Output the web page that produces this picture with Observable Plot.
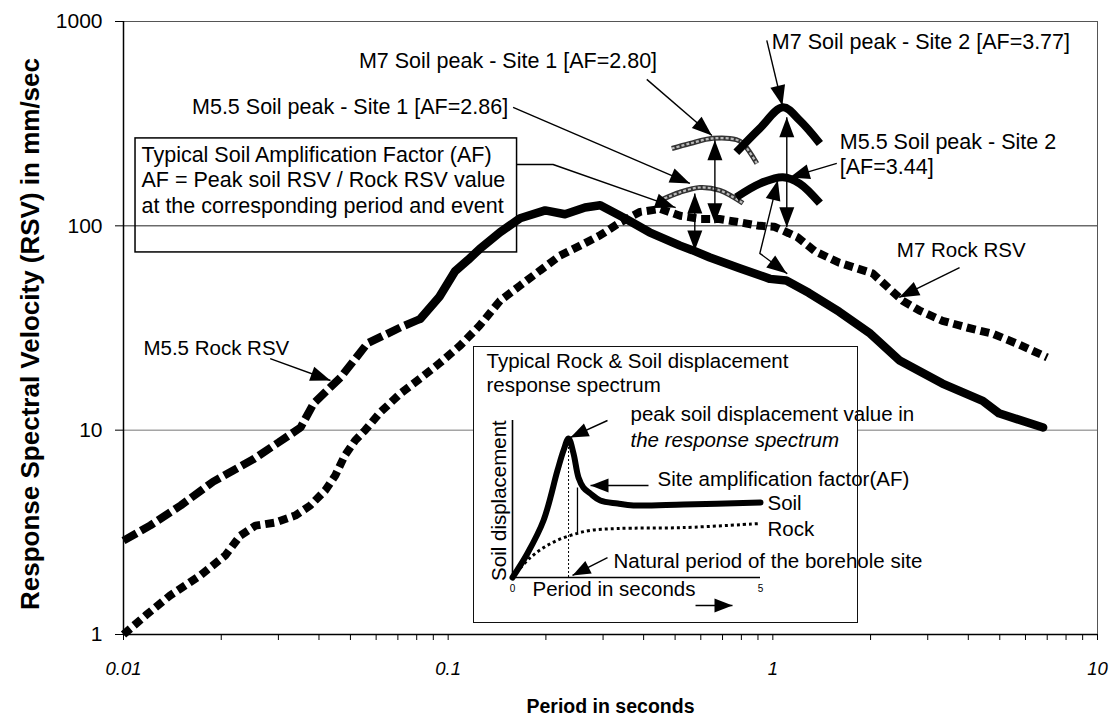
<!DOCTYPE html>
<html><head><meta charset="utf-8">
<script src="https://cdn.jsdelivr.net/npm/d3@7"></script>
<script src="https://cdn.jsdelivr.net/npm/@observablehq/plot@0.6"></script>
<style>
body{margin:0;background:#fff;}
#wrap{position:relative;width:1118px;height:721px;font-family:"Liberation Sans",Arial,sans-serif;}
#wrap svg{position:absolute;}
</style></head><body><div id="wrap"></div>
<script>
// ---------- main chart data ----------
const xTicks = [0.01, 0.1, 1, 10];
const xMinor = [0.02,0.03,0.04,0.05,0.06,0.07,0.08,0.09,0.2,0.3,0.4,0.5,0.6,0.7,0.8,0.9,2,3,4,5,6,7,8,9];
const yTicks = [1, 10, 100, 1000];
const yGrid = [10, 100];

const m55RockPeriod = [0.01,0.0121,0.015,0.0189,0.0251,0.030,0.0351,0.0385,0.0466,0.0564,0.0712,0.082,0.094,0.105,0.115,0.125,0.1445,0.1665,0.199,0.229,0.264,0.294,0.35,0.417,0.518,0.565,0.64,0.79,0.98,1.1,1.29,1.6,1.98,2.45,3.33,4.43,4.97,6.8];
const m55RockRSV    = [2.88,3.42,4.28,5.6,7.2,8.7,10.3,13.5,18.1,26.6,31.8,35,45,60,68,77,93,109,119,114,123,126,109,93,80,76,70,62,55,54,47,38,30,22,16.9,13.9,12.1,10.3];
const m55DashEnd = 0.082;

const m7RockPeriod = [0.01,0.0117,0.0139,0.0172,0.0206,0.0229,0.0255,0.0293,0.0338,0.0376,0.0418,0.0449,0.048,0.0517,0.0555,0.0617,0.0712,0.082,0.0945,0.109,0.125,0.1445,0.1665,0.192,0.221,0.255,0.294,0.339,0.39,0.45,0.518,0.60,0.685,0.79,0.91,1.01,1.12,1.19,1.35,1.6,2.03,2.51,2.83,3.33,3.96,4.77,5.62,7.0];
const m7RockRSV    = [1.0,1.24,1.55,1.94,2.44,3.05,3.41,3.53,3.82,4.28,5.07,6.0,7.5,8.9,10.0,12.2,15.1,17.9,21.4,26,32.5,43,51,60.5,71.5,80,90,104,117,121,112,108,108,104,100,99,92,88,75,66,58.5,43,38.5,34.3,31.8,29.6,26.6,22.7];

const m7Site1Period = [0.4886,0.556,0.654,0.772,0.809,0.893];
const m7Site1RSV    = [239,253,268,264,253,202];
const m55Site1Period = [0.449,0.518,0.596,0.687,0.809];
const m55Site1RSV    = [133,146,154,149,129];
const m7Site2Period = [0.772,0.912,1.074,1.21,1.396];
const m7Site2RSV    = [229,300,380,328,253];
const m55Site2Period = [0.772,0.912,1.074,1.21,1.396];
const m55Site2RSV    = [138,161,173,161,129];

// annotation labels
const labelText = ["M7 Soil peak - Site 1 [AF=2.80]", "M5.5 Soil peak - Site 1 [AF=2.86]", "M7 Soil peak - Site 2 [AF=3.77]", "M5.5 Soil peak - Site 2\n[AF=3.44]", "Typical Soil Amplification Factor (AF)\nAF = Peak soil RSV / Rock RSV value\nat the corresponding period and event"];
const labelX = [0.44, 0.153, 0.993, 1.608, 0.01136];
const labelY = [650, 384, 800, 227, 168.7];
const labelAnchor = ["end","end","start","start","start"];
const rockLabelText = ["M7 Rock RSV", "M5.5 Rock RSV"];
const rockLabelX = [2.41, 0.01152];
const rockLabelY = [75.8, 25.1];

// AF note box corners
const boxX = [0.01089, 0.163];
const boxY = [74.1, 267.8];

// single-headed pointer arrows (from -> to)
const arrowX1 = [0.409, 0.1585, 0.958, 1.574, 0.0283, 3.76];
const arrowY1 = [521, 380, 808, 202, 22.4, 62.5];
const arrowX2 = [0.649, 0.5555, 1.07, 1.127, 0.0434, 2.45];
const arrowY2 = [277, 161.3, 388, 172.6, 17.5, 44.6];

// bent pointer from the AF note box
const boxArrowX = [0.163, 0.2104, 0.5];
const boxArrowY = [199.6, 199.6, 123];

// double-headed AF arrows
const afX  = [0.663, 0.575, 1.104];
const afY1 = [262, 144, 340];
const afY2 = [103, 75.8, 98.5];
const afBentX = [1.036, 0.912, 1.104];
const afBentY = [167, 73.3, 58.5];

const yTitle = "Response Spectral Velocity (RSV) in mm/sec";
const xTitle = "Period in seconds";

// ---------- inset data ----------
const insetSoilT = [0,0.30,0.625,0.907,1.03,1.13,1.23,1.33,1.43,1.57,1.77,2.12,2.44,3.45,5];
const insetSoilV = [0,0.153,0.363,0.682,0.81,0.885,0.79,0.637,0.573,0.535,0.49,0.471,0.459,0.465,0.478];
const insetRockT = [0,0.36,0.77,1.17,1.57,2.12,3.45,5];
const insetRockV = [0,0.127,0.217,0.268,0.3,0.312,0.318,0.344];
const insetPeakT = 1.13, insetPeakV = 0.885;
const insetAfT = 1.31, insetAfLow = 0.28, insetAfHigh = 0.57;
const insetText = ["Typical Rock & Soil displacement\nresponse spectrum", "peak soil displacement value in", "the response spectrum", "Site amplification factor(AF)", "Soil", "Rock", "Natural period of the borehole site", "Period in seconds"];
const insetTextT = [-0.524, 2.379, 2.379, 2.923, 5.141, 5.141, 2.036, 0.403];
const insetTextV = [1.306, 1.045, 0.873, 0.631, 0.478, 0.312, 0.108, -0.07];
const insetTextItalic = [false, false, true, false, false, false, false, false];
const insetTickT = [0, 5];
const insetTickLabel = ["0", "5"];
const insetArrowT1 = [1.915, 2.742, 1.915, 3.69];
const insetArrowV1 = [1.0, 0.586, 0.127, -0.178];
const insetArrowT2 = [1.169, 1.573, 1.21, 4.435];
const insetArrowV2 = [0.892, 0.586, 0.013, -0.178];
const insetYTitle = "Soil displacement";

// ---------- build tables ----------
const zip = (a, b) => a.map((v, i) => ({x: v, y: b[i]}));
const m55Rock = zip(m55RockPeriod, m55RockRSV);
const m7Rock = zip(m7RockPeriod, m7RockRSV);
const labels = labelText.map((t, i) => ({t, x: labelX[i], y: labelY[i], a: labelAnchor[i]}));
const rockLabels = rockLabelText.map((t, i) => ({t, x: rockLabelX[i], y: rockLabelY[i]}));
const arrows = arrowX1.map((v, i) => ({x1: v, y1: arrowY1[i], x2: arrowX2[i], y2: arrowY2[i]}));
const afArrows = afX.map((v, i) => ({x: v, y1: afY1[i], y2: afY2[i]}));
const insetArrows = insetArrowT1.map((v, i) => ({x1: v, y1: insetArrowV1[i], x2: insetArrowT2[i], y2: insetArrowV2[i]}));
const insetLabels = insetText.map((t, i) => ({t, x: insetTextT[i], y: insetTextV[i], it: insetTextItalic[i]}));
const insetTicks = insetTickLabel.map((t, i) => ({t, x: insetTickT[i]}));

const FONT = '"Liberation Sans", Arial, Helvetica, sans-serif';

function arrowHead(len, wid) {
  return (color) => {
    const ns = "http://www.w3.org/2000/svg";
    const m = document.createElementNS(ns, "marker");
    m.setAttribute("viewBox", `${-len} ${-wid / 2} ${len} ${wid}`);
    m.setAttribute("markerUnits", "userSpaceOnUse");
    m.setAttribute("markerWidth", len);
    m.setAttribute("markerHeight", wid);
    m.setAttribute("refX", 0);
    m.setAttribute("refY", 0);
    m.setAttribute("orient", "auto-start-reverse");
    m.setAttribute("overflow", "visible");
    const p = document.createElementNS(ns, "path");
    p.setAttribute("d", `M${-len},${-wid / 2}L0,0L${-len},${wid / 2}Z`);
    p.setAttribute("fill", color);
    p.setAttribute("stroke", "none");
    m.appendChild(p);
    return m;
  };
}

function build(head, smallHead) {
  const main = Plot.plot({
    width: 1118, height: 721,
    marginLeft: 123, marginRight: 21, marginTop: 21, marginBottom: 87,
    style: {fontFamily: FONT, background: "transparent", color: "black", overflow: "visible"},
    x: {type: "log", domain: [0.01, 10]},
    y: {type: "log", domain: [1, 1000]},
    marks: [
      Plot.ruleY(yGrid, {stroke: (d) => d === 100 ? "#222" : "#777", strokeWidth: 1}),
      Plot.frame({stroke: "#555", strokeWidth: 1}),
      Plot.ruleX([0.01], {stroke: "black", strokeWidth: 1.5}),
      Plot.ruleY([1], {stroke: "black", strokeWidth: 1.5}),
      Plot.axisY({ticks: yTicks, tickFormat: (d) => String(d), tickSize: 8, tickPadding: 13, fontSize: 21, label: null}),
      Plot.axisX({ticks: xMinor, tickFormat: () => "", tickSize: 6, label: null}),
      Plot.axisX({ticks: xTicks, tickFormat: (d) => String(d), tickSize: 6, tickPadding: 21, fontSize: 18.5, fontStyle: "italic", label: null}),
      Plot.text([yTitle], {text: (d) => d, frameAnchor: "left", textAnchor: "middle", lineAnchor: "middle", dx: -93, dy: 6, rotate: -90, fontSize: 26, fontWeight: "bold"}),
      Plot.text([xTitle], {text: (d) => d, frameAnchor: "bottom", textAnchor: "middle", lineAnchor: "middle", dy: 72, fontSize: 19.5, fontWeight: "bold"}),
      // note box
      Plot.rect([{}], {x1: boxX[0], x2: boxX[1], y1: boxY[0], y2: boxY[1], fill: "none", stroke: "black", strokeWidth: 1.5}),
      // rock curves
      Plot.line(m7Rock, {x: "x", y: "y", stroke: "black", strokeWidth: 8, strokeDasharray: "9,5", strokeLinecap: "butt", strokeLinejoin: "miter"}),
      Plot.line(m55Rock.filter((d) => d.x <= m55DashEnd), {x: "x", y: "y", stroke: "black", strokeWidth: 8, strokeDasharray: "15,5", strokeLinecap: "butt", strokeLinejoin: "miter"}),
      Plot.line(m55Rock.filter((d) => d.x >= m55DashEnd), {x: "x", y: "y", stroke: "black", strokeWidth: 8.5, strokeLinejoin: "round"}),
      // soil peaks site 1 (grey textured)
      Plot.line(zip(m7Site1Period, m7Site1RSV), {x: "x", y: "y", stroke: "#333", strokeWidth: 5, curve: "catmull-rom", strokeLinecap: "butt"}),
      Plot.line(zip(m7Site1Period, m7Site1RSV), {x: "x", y: "y", stroke: "#bbb", strokeWidth: 2.2, strokeDasharray: "3,2", curve: "catmull-rom", strokeLinecap: "butt"}),
      Plot.line(zip(m55Site1Period, m55Site1RSV), {x: "x", y: "y", stroke: "#333", strokeWidth: 5, curve: "catmull-rom", strokeLinecap: "butt"}),
      Plot.line(zip(m55Site1Period, m55Site1RSV), {x: "x", y: "y", stroke: "#bbb", strokeWidth: 2.2, strokeDasharray: "3,2", curve: "catmull-rom", strokeLinecap: "butt"}),
      // soil peaks site 2 (thick black)
      Plot.line(zip(m7Site2Period, m7Site2RSV), {x: "x", y: "y", stroke: "black", strokeWidth: 8, curve: "catmull-rom", strokeLinecap: "butt"}),
      Plot.line(zip(m55Site2Period, m55Site2RSV), {x: "x", y: "y", stroke: "black", strokeWidth: 8, curve: "catmull-rom", strokeLinecap: "butt"}),
      // arrows
      Plot.link(arrows, {x1: "x1", y1: "y1", x2: "x2", y2: "y2", stroke: "black", strokeWidth: 1.4, markerEnd: head}),
      Plot.line(zip(boxArrowX, boxArrowY), {x: "x", y: "y", stroke: "black", strokeWidth: 1.4, markerEnd: head}),
      Plot.link(afArrows, {x1: "x", x2: "x", y1: "y1", y2: "y2", stroke: "black", strokeWidth: 1.4, markerStart: head, markerEnd: head}),
      Plot.line(zip(afBentX, afBentY), {x: "x", y: "y", stroke: "black", strokeWidth: 1.4, markerStart: head, markerEnd: head}),
      // labels
      Plot.text(labels.filter((d) => d.a === "start"), {x: "x", y: "y", text: "t", textAnchor: "start", fontSize: 21.5, lineHeight: 1.17, fill: "black"}),
      Plot.text(labels.filter((d) => d.a === "end"), {x: "x", y: "y", text: "t", textAnchor: "end", fontSize: 21.5, lineHeight: 1.17, fill: "black"}),
      Plot.text(rockLabels, {x: "x", y: "y", text: "t", textAnchor: "start", fontSize: 20.5, fill: "black"})
    ]
  });

  const inset = Plot.plot({
    width: 383, height: 275,
    marginLeft: 38, marginRight: 97, marginTop: 73, marginBottom: 45,
    style: {fontFamily: FONT, background: "white", color: "black", overflow: "visible"},
    x: {domain: [0, 5], axis: null},
    y: {domain: [0, 1], axis: null},
    marks: [
      Plot.ruleY([0], {x1: 0, x2: 5, stroke: "black", strokeWidth: 1.6}),
      Plot.ruleX([0], {y1: 0, y2: 1, stroke: "black", strokeWidth: 1.6}),
      Plot.ruleX([insetPeakT], {y1: 0, y2: insetPeakV, stroke: "black", strokeWidth: 1, strokeDasharray: "2,2"}),
      Plot.ruleX([insetAfT], {y1: insetAfLow, y2: insetAfHigh, stroke: "black", strokeWidth: 1.3}),
      Plot.line(zip(insetRockT, insetRockV), {x: "x", y: "y", stroke: "black", strokeWidth: 3, strokeDasharray: "3,3", strokeLinecap: "butt", curve: "catmull-rom"}),
      Plot.line(zip(insetSoilT, insetSoilV), {x: "x", y: "y", stroke: "black", strokeWidth: 6, curve: "catmull-rom"}),
      Plot.link(insetArrows, {x1: "x1", y1: "y1", x2: "x2", y2: "y2", stroke: "black", strokeWidth: 1.4, markerEnd: smallHead}),
      Plot.text(insetLabels.filter((d) => !d.it), {x: "x", y: "y", text: "t", textAnchor: "start", fontSize: 20.5, lineHeight: 1.17, fill: "black"}),
      Plot.text(insetLabels.filter((d) => d.it), {x: "x", y: "y", text: "t", textAnchor: "start", fontStyle: "italic", fontSize: 20.5, fill: "black"}),
      Plot.text(insetTicks, {x: "x", y: -0.07, text: "t", fontSize: 10, fill: "black"}),
      Plot.text([insetYTitle], {text: (d) => d, x: 0, y: 0.49, dx: -13, rotate: -90, textAnchor: "middle", fontSize: 20.5, fill: "black"})
    ]
  });
  return [main, inset];
}

let charts;
try {
  charts = build(arrowHead(20, 15), arrowHead(18, 14));
} catch (e) {
  charts = build("arrow", "arrow");
}
const wrap = document.getElementById("wrap");
const [mainSvg, insetSvg] = charts;
mainSvg.style.left = "0px";
mainSvg.style.top = "0px";
insetSvg.style.left = "474px";
insetSvg.style.top = "347px";
insetSvg.style.outline = "1.5px solid #111";
wrap.appendChild(mainSvg);
wrap.appendChild(insetSvg);
</script>
</body></html>
